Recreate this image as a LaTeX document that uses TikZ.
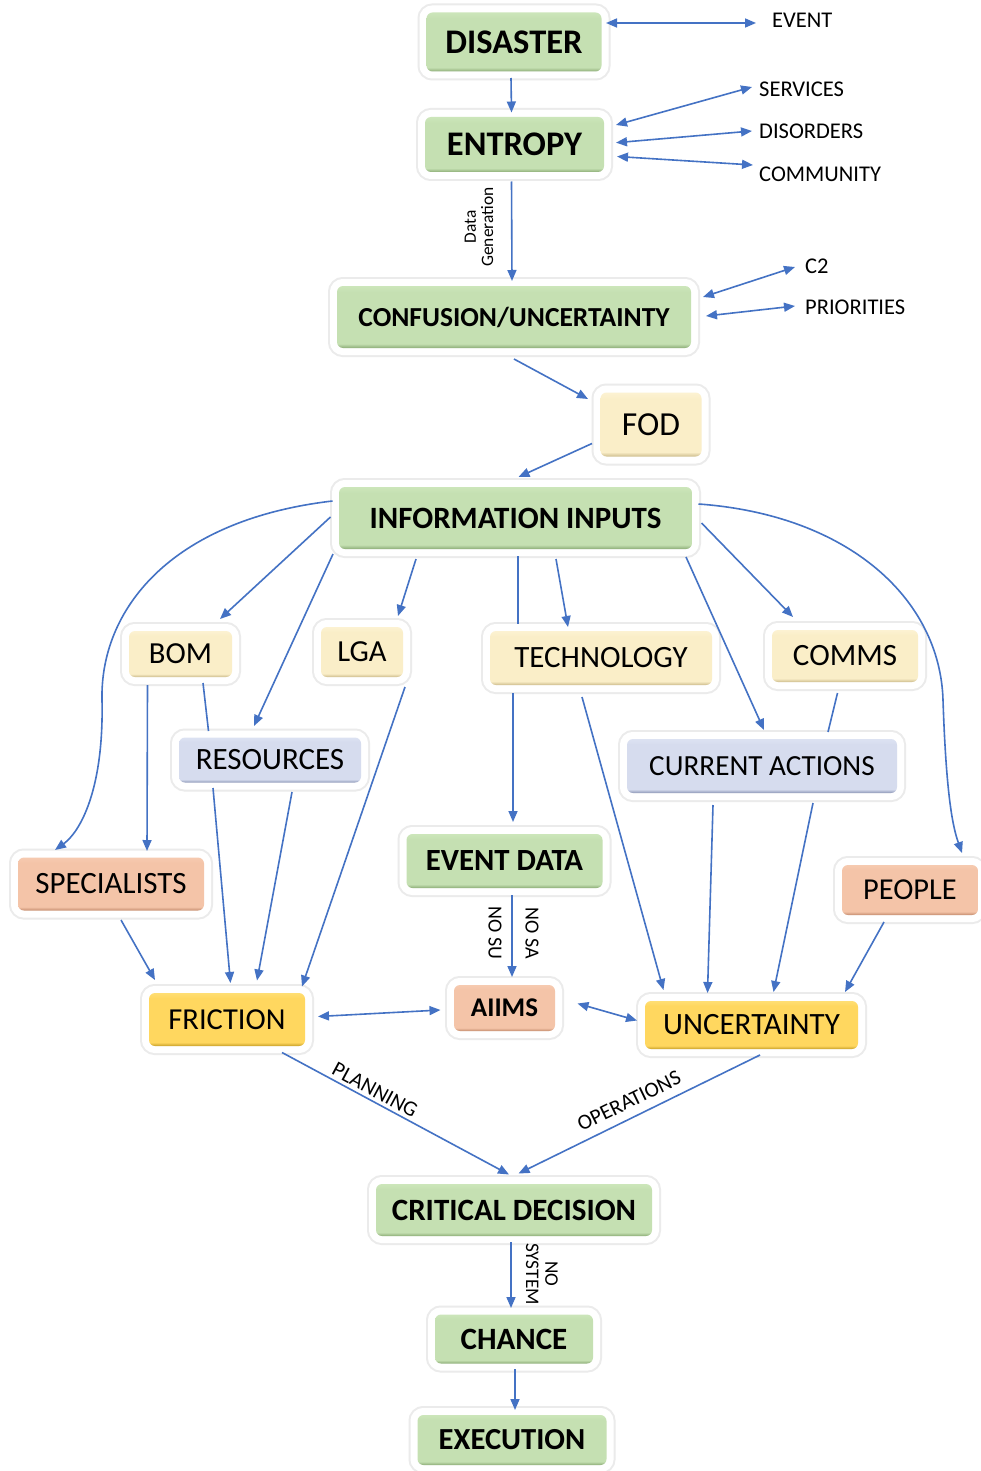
\documentclass[tikz,border=0pt]{standalone}
\usepackage{fontspec}
\setmainfont{Carlito}
\usetikzlibrary{arrows.meta,calc}
\definecolor{arrblue}{HTML}{4472C4}
\definecolor{gdk}{RGB}{140,172,118}
\definecolor{gbase}{RGB}{197,224,178}
\definecolor{glt}{RGB}{204,230,186}
\definecolor{cdk}{RGB}{205,188,140}
\definecolor{cbase}{RGB}{250,238,200}
\definecolor{clt}{RGB}{252,242,210}
\definecolor{bdk}{RGB}{140,150,182}
\definecolor{bbase}{RGB}{214,220,238}
\definecolor{blt}{RGB}{220,226,242}
\definecolor{sdk}{RGB}{196,140,110}
\definecolor{sbase}{RGB}{244,196,168}
\definecolor{slt}{RGB}{246,202,176}
\definecolor{ydk}{RGB}{200,160,40}
\definecolor{ybase}{RGB}{255,215,95}
\definecolor{ylt}{RGB}{255,222,115}
\pgfdeclareverticalshading{greenbev}{100bp}{color(0bp)=(gdk); color(25bp)=(gdk); color(28.5bp)=(gbase); color(70bp)=(gbase); color(75bp)=(glt); color(100bp)=(glt)}
\pgfdeclareverticalshading{creambev}{100bp}{color(0bp)=(cdk); color(25bp)=(cdk); color(28.5bp)=(cbase); color(70bp)=(cbase); color(75bp)=(clt); color(100bp)=(clt)}
\pgfdeclareverticalshading{bluebev}{100bp}{color(0bp)=(bdk); color(25bp)=(bdk); color(28.5bp)=(bbase); color(70bp)=(bbase); color(75bp)=(blt); color(100bp)=(blt)}
\pgfdeclareverticalshading{salmonbev}{100bp}{color(0bp)=(sdk); color(25bp)=(sdk); color(28.5bp)=(sbase); color(70bp)=(sbase); color(75bp)=(slt); color(100bp)=(slt)}
\pgfdeclareverticalshading{goldbev}{100bp}{color(0bp)=(ydk); color(25bp)=(ydk); color(28.5bp)=(ybase); color(70bp)=(ybase); color(75bp)=(ylt); color(100bp)=(ylt)}
\newcommand{\fsz}[1]{\fontsize{#1}{#1}\selectfont}
\tikzset{
  box/.style={rectangle, rounded corners=6pt, inner sep=0pt, align=center, text=black,
    preaction={draw=black!8, line width=18pt},
    preaction={draw=white, line width=14pt}},
  gbox/.style={box, shade, shading=greenbev},
  cbox/.style={box, shade, shading=creambev},
  bbox/.style={box, shade, shading=bluebev},
  sbox/.style={box, shade, shading=salmonbev},
  ybox/.style={box, shade, shading=goldbev},
  side/.style={anchor=west, inner sep=0pt, font=\fsz{22.5}},
  elabel/.style={inner sep=0pt, align=center},
  arr/.style={draw=arrblue, line width=1.6pt, -{Triangle[length=11pt,width=9pt]}},
  darr/.style={draw=arrblue, line width=1.6pt, {Triangle[length=11pt,width=9pt]}-{Triangle[length=11pt,width=9pt]}},
  plainline/.style={draw=arrblue, line width=1.6pt},
}
\begin{document}
\begin{tikzpicture}[x=1pt,y=-1pt]
\useasboundingbox (0,0) rectangle (980,1471);
\fill[white] (0,0) rectangle (980,1471);
% boxes
\node[gbox, minimum width=175pt, minimum height=59pt, font=\bfseries\fsz{34.5}] (dis) at (514,42) {DISASTER};
\node[gbox, minimum width=179pt, minimum height=55pt, font=\bfseries\fsz{34.5}] (ent) at (514.5,144.5) {ENTROPY};
\node[gbox, minimum width=354pt, minimum height=62pt, font=\bfseries\fsz{27.5}] (conf) at (514,317) {CONFUSION/UNCERTAINTY};
\node[cbox, minimum width=101pt, minimum height=64pt, font=\fsz{33.6}] (fod) at (651,424.5) {FOD};
\node[gbox, minimum width=353pt, minimum height=62pt, font=\bfseries\fsz{31}] (info) at (515.5,518) {INFORMATION INPUTS};
\node[cbox, minimum width=103pt, minimum height=46pt, font=\fsz{30.6}] (bom) at (180.5,654) {BOM};
\node[cbox, minimum width=82pt, minimum height=50pt, font=\fsz{30.6}] (lga) at (362,652) {LGA};
\node[cbox, minimum width=222pt, minimum height=54pt, font=\fsz{31}] (tech) at (601,658) {TECHNOLOGY};
\node[cbox, minimum width=146pt, minimum height=52pt, font=\fsz{31}] (comms) at (845,656) {COMMS};
\node[bbox, minimum width=182pt, minimum height=45pt, font=\fsz{31}] (res) at (270,760) {RESOURCES};
\node[bbox, minimum width=270pt, minimum height=54pt, font=\fsz{29.2}] (cur) at (762,766) {CURRENT ACTIONS};
\node[gbox, minimum width=196pt, minimum height=54pt, font=\bfseries\fsz{30.8}] (evd) at (504.5,861) {EVENT DATA};
\node[sbox, minimum width=186pt, minimum height=53pt, font=\fsz{31}] (spec) at (111,884) {SPECIALISTS};
\node[sbox, minimum width=136pt, minimum height=50pt, font=\fsz{30.4}] (people) at (910,890) {PEOPLE};
\node[ybox, minimum width=156pt, minimum height=53pt, font=\fsz{30.5}] (fric) at (227,1019.5) {FRICTION};
\node[sbox, minimum width=101pt, minimum height=46pt, font=\bfseries\fsz{27}] (aiims) at (504.5,1008) {AIIMS};
\node[ybox, minimum width=213pt, minimum height=48pt, font=\fsz{31}] (unc) at (751.5,1025) {UNCERTAINTY};
\node[gbox, minimum width=276pt, minimum height=52pt, font=\bfseries\fsz{31}] (crit) at (514,1210) {CRITICAL DECISION};
\node[gbox, minimum width=158pt, minimum height=49pt, font=\bfseries\fsz{31}] (chance) at (514,1339) {CHANCE};
\node[gbox, minimum width=189pt, minimum height=50pt, font=\bfseries\fsz{30.6}] (exec) at (512,1440) {EXECUTION};
% side labels
\node[side] (event) at (772,20) {EVENT};
\node[side] (services) at (759,89) {SERVICES};
\node[side] (disorders) at (759,131) {DISORDERS};
\node[side] (community) at (759,174) {COMMUNITY};
\node[side] (c2) at (805,266) {C2};
\node[side] (priorities) at (805,307) {PRIORITIES};
% connectors
\draw[darr] ($(dis)+(92,-19)$) -- ($(event.west)+(-16,3)$);
\draw[arr] ($(dis)+(-3,36)$) -- ($(ent)+(-3,-32)$);
\draw[darr] ($(ent)+(101.5,-19.5)$) -- ($(services.west)+(-7,-2)$);
\draw[darr] ($(ent)+(101.5,-1.8)$) -- ($(disorders.west)+(-7,0)$);
\draw[darr] ($(ent)+(102.5,12)$) -- ($(community.west)+(-6,-9)$);
\draw[arr] ($(ent)+(-3,37)$) -- ($(conf)+(-2,-36)$);
\draw[darr] ($(conf)+(189,-20)$) -- ($(c2.west)+(-10,1)$);
\draw[darr] ($(conf)+(192,-1)$) -- ($(priorities.west)+(-10,-1)$);
\draw[arr] ($(conf)+(0,42)$) -- ($(fod)+(-63,-25.5)$);
\draw[arr] ($(fod)+(-59,19)$) -- ($(info)+(3,-41)$);
\draw[arr] ($(info)+(-183,-17)$) .. controls (170,520) and (100,610) .. (102,700) .. controls (104,790) and (80,832) .. ($(spec)+(-56,-34)$);
\draw[arr] ($(info)+(-185,-1)$) -- ($(bom)+(39.5,-35)$);
\draw[arr] ($(info)+(-182.5,36)$) -- ($(res)+(-16,-34)$);
\draw[arr] ($(info)+(-99.5,41)$) -- ($(lga)+(36,-36)$);
\draw[plainline] ($(info)+(2.5,38)$) -- ($(tech)+(-83,-34)$);
\draw[arr] ($(info)+(40.5,41)$) -- ($(tech)+(-33,-31)$);
\draw[arr] ($(info)+(170.5,39)$) -- ($(cur)+(2,-36)$);
\draw[arr] ($(info)+(186,5)$) -- ($(comms)+(-52,-39)$);
\draw[arr] ($(info)+(183,-14)$) .. controls (850,515) and (940,600) .. (943,700) .. controls (946,790) and (952,825) .. ($(people)+(52,-37)$);
\draw[arr] ($(bom)+(-33,31)$) -- ($(spec)+(36,-33)$);
\draw[plainline] ($(bom)+(22.5,29)$) -- ($(res)+(-61.5,-29)$);
\draw[arr] ($(res)+(-57,28)$) -- ($(fric)+(3.5,-36.5)$);
\draw[arr] ($(res)+(22,32)$) -- ($(fric)+(30,-39)$);
\draw[arr] ($(lga)+(43,35)$) -- ($(fric)+(75,-33)$);
\draw[arr] ($(tech)+(-88,35)$) -- ($(evd)+(8.5,-39)$);
\draw[arr] ($(tech)+(-19,39)$) -- ($(unc)+(-88,-35)$);
\draw[plainline] ($(comms)+(-7.5,37)$) -- ($(cur)+(66,-34)$);
\draw[arr] ($(cur)+(-49,39)$) -- ($(unc)+(-44,-32)$);
\draw[arr] ($(cur)+(51,37)$) -- ($(unc)+(22,-33)$);
\draw[arr] ($(spec)+(10,36)$) -- ($(fric)+(-72,-39.5)$);
\draw[arr] ($(people)+(-26,32)$) -- ($(unc)+(93.5,-33)$);
\draw[arr] ($(evd)+(7.5,34)$) -- ($(aiims)+(7.5,-31)$);
\draw[darr] ($(fric)+(91,-3)$) -- ($(aiims)+(-64,2)$);
\draw[darr] ($(aiims)+(73,-4.5)$) -- ($(unc)+(-114.5,-4.5)$);
\draw[arr] ($(fric)+(55,33)$) -- ($(crit)+(-5,-35.5)$);
\draw[arr] ($(unc)+(8.5,30)$) -- ($(crit)+(4.5,-36.5)$);
\draw[arr] ($(crit)+(-3,32)$) -- ($(chance)+(-3,-31)$);
\draw[arr] ($(chance)+(1,30)$) -- ($(exec)+(3,-30)$);
% edge labels
\node[elabel, rotate=90, font=\fsz{17.4}] (datagen) at (479,227) {Data\\Generation};
\node[elabel, rotate=-90, font=\fsz{20}] (nosu) at (495,933) {NO SU};
\node[elabel, rotate=-90, font=\fsz{20}] (nosa) at (532,933) {NO SA};
\node[elabel, rotate=-90, font=\fsz{19.2}] (nosys) at (542,1274) {NO\\SYSTEM};
\node[elabel, rotate=-28.3, font=\fsz{21.5}] (planning) at (375,1090) {PLANNING};
\node[elabel, rotate=26, font=\fsz{21.5}] (operations) at (629,1101) {OPERATIONS};
\end{tikzpicture}
\end{document}
